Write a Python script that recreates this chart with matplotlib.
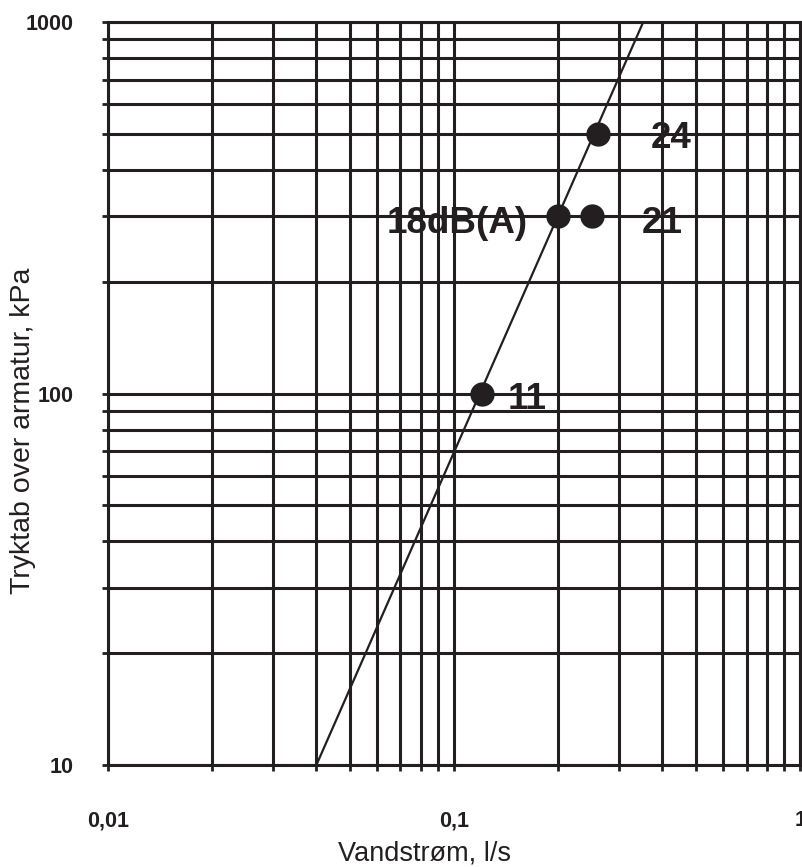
import matplotlib
matplotlib.use("Agg")
import matplotlib.pyplot as plt
from matplotlib.ticker import FixedLocator, LogLocator, NullFormatter

plt.rcParams['font.family'] = ['Liberation Sans', 'DejaVu Sans']

# Data
line_flow = [0.04, 0.352]      # l/s
line_press = [10, 1000]        # kPa
pt_flow = [0.12, 0.2, 0.25, 0.26]
pt_press = [100, 300, 300, 500]
pt_labels = ['11', '18dB(A)', '21', '24']
label_offsets = [(19, -4), (-22, -5), (36, -5), (38, -3)]

x_ticks = [0.01, 0.1, 1]
x_ticklabels = ['0,01', '0,1', '1']
y_ticks = [10, 100, 1000]
y_ticklabels = ['10', '100', '1000']

ink = '#231f20'

fig = plt.figure(figsize=(8.03, 8.67), dpi=100)
ax = fig.add_axes([0.1345, 0.1176, 0.862, 0.857])
ax.set_xscale('log')
ax.set_yscale('log')
ax.set_xlim(0.01, 1)
ax.set_ylim(10, 1000)

ax.plot(line_flow, line_press, color=ink, lw=1.6, zorder=3)
ax.plot(pt_flow, pt_press, 'o', color=ink, ms=16.5, zorder=4)
for x, y, s, off in zip(pt_flow, pt_press, pt_labels, label_offsets):
    ax.annotate(s, (x, y), xytext=off, textcoords='offset points',
                ha='left' if off[0] > 0 else 'right', va='center',
                fontsize=26.5, fontweight='bold', color=ink)

ax.grid(True, which='both', color=ink, lw=2.2, zorder=1)
for sp in ax.spines.values():
    sp.set_color(ink)
    sp.set_linewidth(2.2)

ax.xaxis.set_major_locator(FixedLocator(x_ticks))
ax.set_xticklabels(x_ticklabels)
ax.yaxis.set_major_locator(FixedLocator(y_ticks))
ax.set_yticklabels(y_ticklabels)
for axis in (ax.xaxis, ax.yaxis):
    axis.set_minor_locator(LogLocator(base=10, subs=range(2, 10)))
    axis.set_minor_formatter(NullFormatter())

ax.tick_params(which='both', direction='out', length=4, width=2, color=ink)
ax.tick_params(axis='x', which='major', pad=28.5, labelsize=15.5)
ax.tick_params(axis='y', which='major', pad=20.5, labelsize=15.5)
for t in ax.get_xticklabels() + ax.get_yticklabels():
    t.set_fontweight('bold')
    t.set_color(ink)

ax.set_xlabel('Vandstrøm, l/s', fontsize=19.5, color=ink)
ax.set_ylabel('Tryktab over armatur, kPa', fontsize=20.5, color=ink)
ax.xaxis.set_label_coords(0.457, -0.101)
ax.yaxis.set_label_coords(-0.104, 0.45)

fig.savefig('out.png', dpi=100)
